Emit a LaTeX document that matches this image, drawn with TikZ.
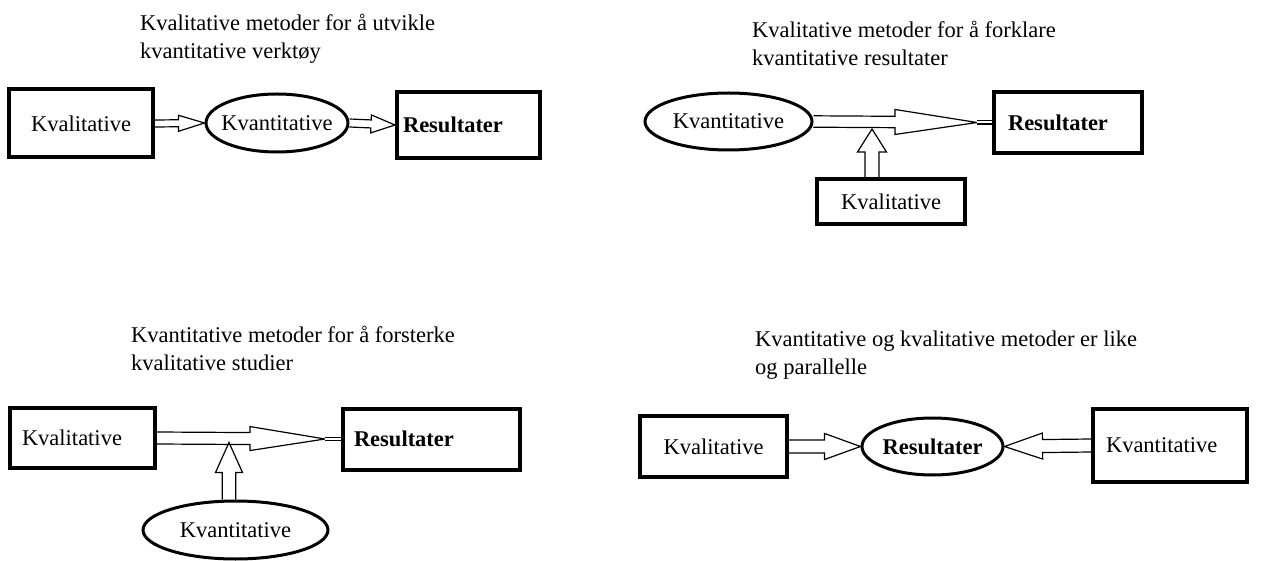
\documentclass[tikz,border=0pt]{standalone}
\usepackage{fontspec}
\setmainfont{Liberation Serif}
\usetikzlibrary{calc,shapes.geometric}

\newcommand{\hollowarrow}[5]{%
  \coordinate (hb) at ($(#2)!#5!(#1)$);
  \draw[harr] ($(#1)!#3!90:(#2)$) -- ($(hb)!#3!-90:(#1)$) -- ($(hb)!#4!-90:(#1)$) -- (#2)
    -- ($(hb)!#4!90:(#1)$) -- ($(hb)!#3!90:(#1)$) -- ($(#1)!#3!-90:(#2)$);
}

\begin{document}
\begin{tikzpicture}[x=1pt, y=-1pt, font=\fontsize{22.5}{28}\selectfont, every node/.style={inner sep=0pt}]
  \tikzset{
    box/.style={draw, line width=4pt},
    lbox/.style={box, align=left},
    oval/.style={ellipse, draw, line width=3pt},
    title/.style={anchor=north west, align=left},
    harr/.style={line width=1.2pt},
    neck/.style={harr, double, double distance=2pt}
  }
  \useasboundingbox (0,0) rectangle (1266,561);

  \node[title] (t1) at (140,14) {Kvalitative metoder for å utvikle\\kvantitative verktøy};
  \node[box, minimum width=144, minimum height=68] (k1) at (81,123.5) {Kvalitative};
  \node[oval, minimum width=142, minimum height=58] (e1) at (277,123) {\makebox[0pt]{Kvantitative}};
  \node[lbox, minimum height=66, text width=131, inner xsep=6] (r1) at (468.5,125) {\bfseries Resultater};
  \hollowarrow{k1.east}{e1.west}{3.5pt}{8pt}{26pt}
  \hollowarrow{e1.east}{r1.west}{4pt}{9pt}{24pt}

  \node[title] (t2) at (752,21) {Kvalitative metoder for å forklare\\kvantitative resultater};
  \node[oval, minimum width=167, minimum height=57] (e2) at (728.5,121.5) {\makebox[0pt]{Kvantitative}};
  \node[lbox, minimum width=148, minimum height=61, text width=120, inner xsep=14] (r2) at (1068,122.5) {\bfseries Resultater};
  \node[box, minimum width=148, minimum height=45] (k2) at (891,201.5) {Kvalitative};
  \coordinate (tip2) at ($(r2.west)+(-15,0)$);
  \hollowarrow{e2.east}{tip2}{5.7pt}{12.5pt}{82pt}
  \draw[neck] (tip2) -- (r2.west);
  \coordinate (j2) at (872,129);
  \coordinate (s2) at (k2.north -| j2);
  \hollowarrow{s2}{j2}{7pt}{14.5pt}{23pt}

  \node[title] (t3) at (131,326) {Kvantitative metoder for å forsterke\\kvalitative studier};
  \node[lbox, minimum height=60, text width=121, inner xsep=12] (k3) at (82.5,438) {Kvalitative};
  \node[lbox, minimum height=61, text width=155, inner xsep=11] (r3) at (431.5,439) {\bfseries Resultater};
  \node[oval, minimum width=185, minimum height=58] (e3) at (235.5,530) {\makebox[0pt]{Kvantitative}};
  \coordinate (tip3) at ($(r3.west)+(-16,0)$);
  \hollowarrow{k3.east}{tip3}{6pt}{12pt}{75pt}
  \draw[neck] (tip3) -- (r3.west);
  \coordinate (j3) at (229,442.5);
  \coordinate (s3) at (e3.north -| j3);
  \hollowarrow{s3}{j3}{6.8pt}{13.5pt}{30pt}

  \node[title] (t4) at (755,331) {Kvantitative og kvalitative metoder er like\\og parallelle};
  \node[box, minimum width=147, minimum height=61] (k4) at (713.5,446.5) {Kvalitative};
  \node[oval, minimum width=141, minimum height=57] (e4) at (932.5,446.5) {\makebox[0pt]{\bfseries Resultater}};
  \node[lbox, minimum height=73, text width=128, inner xsep=13] (kv4) at (1170,445.5) {Kvantitative};
  \hollowarrow{k4.east}{e4.west}{6.5pt}{13pt}{36pt}
  \hollowarrow{kv4.west}{e4.east}{6.5pt}{13pt}{38pt}
\end{tikzpicture}
\end{document}
